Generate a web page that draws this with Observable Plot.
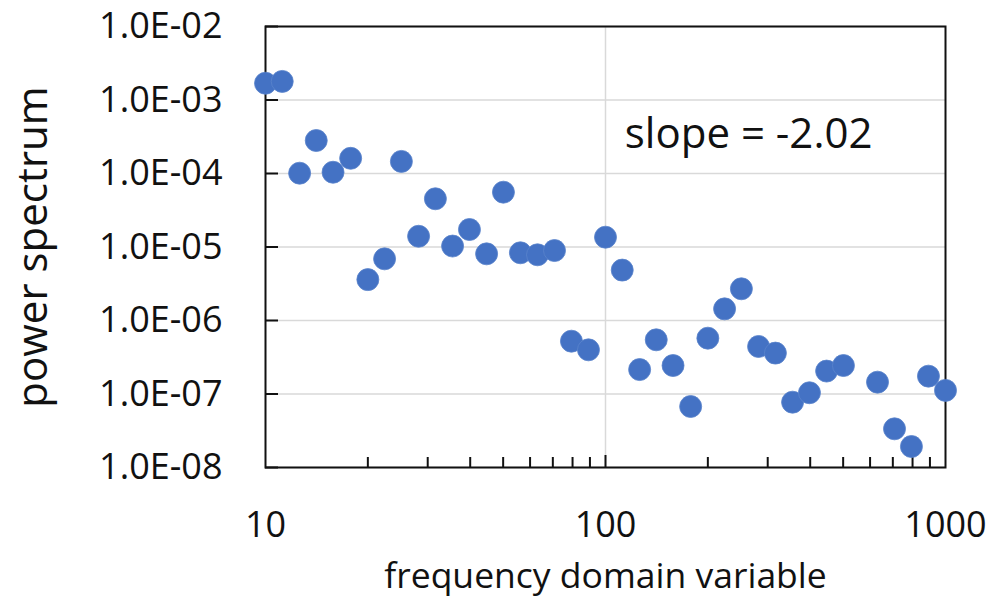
<!DOCTYPE html>
<html>
<head>
<meta charset="utf-8">
<script src="https://cdn.jsdelivr.net/npm/d3@7"></script>
<script src="https://cdn.jsdelivr.net/npm/@observablehq/plot@0.6"></script>
<style>
  html, body { margin: 0; padding: 0; background: #ffffff; overflow: hidden; }
  #chart svg { display: block; }
</style>
</head>
<body>
<div id="chart"></div>
<script>
// frequency domain variable (x)
const freq = [10, 11.2, 12.6, 14.1, 15.8, 17.8, 20, 22.4, 25.1, 28.2,
  31.6, 35.5, 39.8, 44.7, 50.1, 56.2, 63.1, 70.8, 79.4, 89.1,
  100, 112, 126, 141, 158, 178, 200, 224, 251, 282,
  316, 355, 398, 447, 501, 631, 708, 794, 891, 1000];
// power spectrum (y)
const power = [1.69e-3, 1.79e-3, 1.01e-4, 2.81e-4, 1.04e-4, 1.61e-4, 3.6e-6, 6.9e-6, 1.46e-4, 1.40e-5,
  4.53e-5, 1.03e-5, 1.73e-5, 8.07e-6, 5.57e-5, 8.34e-6, 7.83e-6, 8.95e-6, 5.23e-7, 3.99e-7,
  1.36e-5, 4.85e-6, 2.15e-7, 5.46e-7, 2.44e-7, 6.76e-8, 5.75e-7, 1.44e-6, 2.7e-6, 4.43e-7,
  3.6e-7, 7.74e-8, 1.04e-7, 2.05e-7, 2.44e-7, 1.45e-7, 3.36e-8, 1.93e-8, 1.75e-7, 1.12e-7];

const yTicks = [1e-2, 1e-3, 1e-4, 1e-5, 1e-6, 1e-7, 1e-8];
const yTickLabels = ["1.0E-02", "1.0E-03", "1.0E-04", "1.0E-05", "1.0E-06", "1.0E-07", "1.0E-08"];
const xTicks = [10, 100, 1000];
const xTickLabels = ["10", "100", "1000"];
const xMinorTicks = [20, 30, 40, 50, 60, 70, 80, 90, 200, 300, 400, 500, 600, 700, 800, 900];
const xGrid = [100];

const annotation = ["slope = -2.02"];
const annotationX = [114];
const annotationY = [3.4e-4];

const xTitle = "frequency domain variable";
const yTitle = "power spectrum";

const data = freq.map((f, i) => ({f, p: power[i]}));
const yLabelOf = new Map(yTicks.map((t, i) => [t, yTickLabels[i]]));
const xLabelOf = new Map(xTicks.map((t, i) => [t, xTickLabels[i]]));

const chart = Plot.plot({
  width: 994,
  height: 607,
  marginLeft: 265,
  marginRight: 49,
  marginTop: 26,
  marginBottom: 140,
  style: {fontFamily: "'Open Sans', sans-serif", color: "#111", background: "#fff", overflow: "visible"},
  x: {type: "log", domain: [10, 1000], label: null, axis: null},
  y: {type: "log", domain: [1e-8, 1e-2], label: null, axis: null},
  marks: [
    Plot.gridY(yTicks, {stroke: "#d9d9d9", strokeOpacity: 1, strokeWidth: 1.5}),
    Plot.gridX(xGrid, {stroke: "#d9d9d9", strokeOpacity: 1, strokeWidth: 1.5}),
    Plot.frame({stroke: "#111", strokeWidth: 2}),
    // inward major ticks on y
    Plot.axisY(yTicks, {anchor: "left", tickSize: 13, dx: 13, strokeWidth: 2, tickFormat: () => "", label: null}),
    // inward minor ticks on x
    Plot.axisX(xMinorTicks, {anchor: "bottom", tickSize: 10, dy: -10, strokeWidth: 2, tickFormat: () => "", label: null}),
    Plot.axisX(xGrid, {anchor: "bottom", tickSize: 12, dy: -12, strokeWidth: 2, tickFormat: () => "", label: null}),
    // tick labels
    Plot.axisY(yTicks, {anchor: "left", tickSize: 0, tickPadding: 43, fontSize: 36, tickFormat: d => yLabelOf.get(d), label: null}),
    Plot.axisX(xTicks, {anchor: "bottom", tickSize: 0, tickPadding: 44, fontSize: 36, tickFormat: d => xLabelOf.get(d), label: null}),
    // axis titles
    Plot.text([xTitle], {frameAnchor: "bottom", textAnchor: "middle", dy: 120, fontSize: 35.5, fill: "#111"}),
    Plot.text([yTitle], {frameAnchor: "left", textAnchor: "middle", lineAnchor: "middle", dx: -232, rotate: -90, fontSize: 42, fill: "#111"}),
    // points
    Plot.dot(data, {x: "f", y: "p", r: 11, fill: "#4472c4", stroke: "#5b84cc", strokeWidth: 0.8}),
    // annotation
    Plot.text(annotation, {x: annotationX, y: annotationY, text: d => d, textAnchor: "start", fontSize: 42, fill: "#111"})
  ]
});
document.getElementById("chart").appendChild(chart);
</script>
</body>
</html>
